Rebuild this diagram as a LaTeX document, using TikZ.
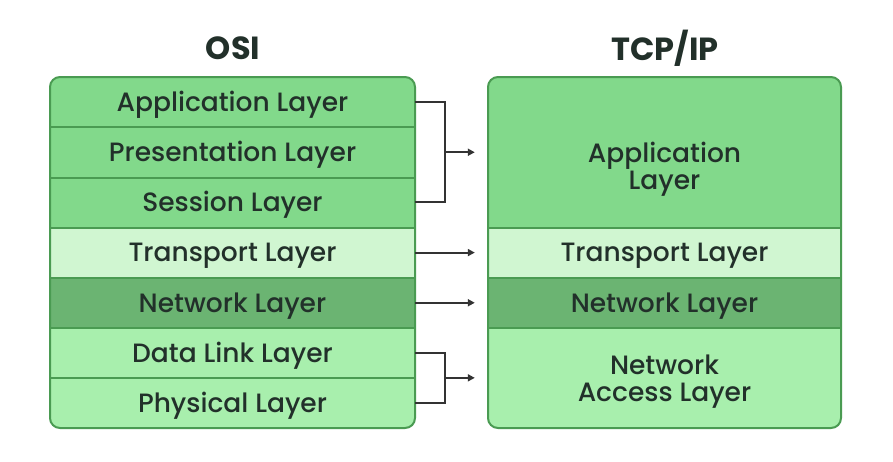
\documentclass[tikz,border=0pt]{standalone}
\usepackage{fontspec}
\setmainfont{Poppins}[UprightFont={* Medium},BoldFont={* Bold}]
\usetikzlibrary{arrows.meta}
\definecolor{midg}{HTML}{82D98B}
\definecolor{lightg}{HTML}{D0F6D1}
\definecolor{darkg}{HTML}{6BB472}
\definecolor{paleg}{HTML}{A8EFAD}
\definecolor{bord}{HTML}{4A9B52}
\definecolor{txt}{HTML}{22302A}
\definecolor{conn}{HTML}{333333}
\tikzset{
  base/.style={inner sep=0pt, text=txt, font=\fontsize{26.5}{27}\selectfont, align=center},
  row/.style={base, minimum width=365pt, minimum height=50.17pt, text height=24pt, text depth=5.5pt},
  rrow/.style={row, minimum width=353pt},
  sep/.style={draw=bord, line width=2pt},
  frame/.style={draw=bord, line width=2pt, rounded corners=10pt},
  link/.style={draw=conn, line width=2pt},
  arr/.style={link, -{Triangle[length=7pt,width=7pt]}, shorten >=13pt},
  ttl/.style={font=\bfseries\fontsize{32}{36}\selectfont, text=txt}
}
\begin{document}
\begin{tikzpicture}[x=1pt,y=-1pt]
\useasboundingbox (0,0) rectangle (893,461);
\node[ttl] (osi) at (233,48) {OSI};
\node[ttl] (tcp) at (665,48) {TCP/IP};
% left stack
\begin{scope}
\clip[rounded corners=10pt] (50,77) rectangle (415,428);
\node[row, fill=midg] (app) at (232.5,102.08) {Application Layer};
\node[row, fill=midg] (pre) at (232.5,152.25) {Presentation Layer};
\node[row, fill=midg] (ses) at (232.5,202.42) {Session Layer};
\node[row, fill=lightg] (tra) at (232.5,252.58) {Transport Layer};
\node[row, fill=darkg] (net) at (232.5,302.75) {Network Layer};
\node[row, fill=paleg] (dl) at (232.5,352.92) {Data Link Layer};
\node[row, fill=paleg] (phy) at (232.5,403.08) {Physical Layer};
\end{scope}
\foreach \n in {app,pre,ses,tra,net,dl} \draw[sep] (\n.south west) -- (\n.south east);
\draw[frame] (50,77) rectangle (415,428);
% right stack
\begin{scope}
\clip[rounded corners=10pt] (488,77) rectangle (841,428);
\node[rrow, fill=midg, minimum height=150.5pt] (tapp) at (664.5,152.25) {};
\node[base] (tappt) at (664.5,169) {Application\\Layer};
\node[rrow, fill=lightg] (ttra) at (664.5,252.58) {Transport Layer};
\node[rrow, fill=darkg] (tnet) at (664.5,302.75) {Network Layer};
\node[rrow, fill=paleg, minimum height=100.33pt] (tna) at (664.5,377.83) {};
\node[base] (tnat) at (664.5,381.5) {Network\\Access Layer};
\end{scope}
\foreach \n in {tapp,ttra,tnet} \draw[sep] (\n.south west) -- (\n.south east);
\draw[frame] (488,77) rectangle (841,428);
% connectors
\draw[link] (app.east) -- ++(30,0) coordinate (b1) |- (ses.east);
\draw[arr] (b1 |- pre.east) -- (tapp.west);
\draw[arr] (tra.east) -- (ttra.west);
\draw[arr] (net.east) -- (tnet.west);
\draw[link] (dl.east) -- ++(30,0) coordinate (b2) |- (phy.east);
\draw[arr] (b2 |- tna.west) -- (tna.west);
\end{tikzpicture}
\end{document}
